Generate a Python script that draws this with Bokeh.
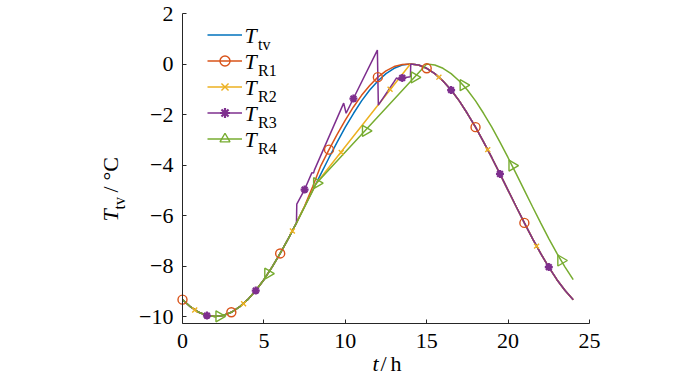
import math
from bokeh.plotting import figure
from bokeh.models import (Range1d, FixedTicker, Legend, LegendItem, Label, LinearAxis)
from bokeh.embed import file_html
from bokeh.resources import INLINE

# ---------------- data ----------------
t_tv = [i * 0.5 for i in range(49)]
T_tv = [-9.33, -9.62, -9.83, -9.96, -10.0, -9.96, -9.83, -9.62, -9.33, -8.97,
        -8.54, -8.04, -7.5, -6.91, -6.29, -5.65, -5.0, -4.35, -3.71, -3.09,
        -2.5, -1.96, -1.46, -1.03, -0.67, -0.38, -0.17, -0.04, 0.0, -0.04,
        -0.17, -0.38, -0.67, -1.03, -1.46, -1.96, -2.5, -3.09, -3.71, -4.35,
        -5.0, -5.65, -6.29, -6.91, -7.5, -8.04, -8.54, -8.97, -9.33]

t_r1 = t_tv
T_r1 = [-9.33, -9.62, -9.83, -9.96, -10.0, -9.96, -9.83, -9.62, -9.33, -8.97,
        -8.54, -8.04, -7.5, -6.91, -6.29, -5.62, -4.85, -4.02, -3.39, -2.79,
        -2.22, -1.70, -1.24, -0.85, -0.52, -0.27, -0.10, -0.02, 0.0, -0.04,
        -0.17, -0.38, -0.67, -1.03, -1.46, -1.96, -2.5, -3.09, -3.71, -4.35,
        -5.0, -5.65, -6.29, -6.91, -7.5, -8.04, -8.54, -8.97, -9.33]

t_r2 = [0, 0.5, 1, 1.5, 2, 2.5, 3, 3.5, 4, 4.5, 5, 5.5, 6, 6.5, 7, 7.5, 8, 8.2,
        14, 14.5, 15, 15.5, 16, 16.5, 17, 17.5, 18, 18.5, 19, 19.5, 20, 20.5,
        21, 21.5, 22, 22.5, 23, 23.5, 24]
T_r2 = [-9.33, -9.62, -9.83, -9.96, -10.0, -9.96, -9.83, -9.62, -9.33, -8.97,
        -8.54, -8.04, -7.5, -6.91, -6.29, -5.65, -5.0, -4.74,
        0.0, -0.04, -0.17, -0.38, -0.67, -1.03, -1.46, -1.96, -2.5, -3.09,
        -3.71, -4.35, -5.0, -5.65, -6.29, -6.91, -7.5, -8.04, -8.54, -8.97, -9.33]

t_r3 = [0, 0.5, 1, 1.5, 2, 2.5, 3, 3.5, 4, 4.5, 5, 5.5, 6, 6.5, 7,
        7.02, 7.5, 7.95, 8.05, 8.1, 9.9, 10.05, 11.97, 12.03, 13.0, 13.15,
        13.3, 13.5, 14.0, 14.02,
        14.5, 15, 15.5, 16, 16.5, 17, 17.5, 18, 18.5, 19, 19.5, 20, 20.5,
        21, 21.5, 22, 22.5, 23, 23.5, 24]
T_r3 = [-9.33, -9.62, -9.83, -9.96, -10.0, -9.96, -9.83, -9.62, -9.33, -8.97,
        -8.54, -8.04, -7.5, -6.91, -6.29,
        -5.55, -4.97, -4.3, -4.32, -4.2, -1.55, -1.95, 0.55, -1.63, -0.7, -0.55,
        -0.62, -0.55, -0.5, 0.0,
        -0.04, -0.17, -0.38, -0.67, -1.03, -1.46, -1.96, -2.5, -3.09, -3.71,
        -4.35, -5.0, -5.65, -6.29, -6.91, -7.5, -8.04, -8.54, -8.97, -9.33]

t_r4 = [0, 0.5, 1, 1.5, 2, 2.5, 3, 3.5, 4, 4.5, 5, 5.5, 6, 6.5, 7, 7.5, 8, 8.2,
        15, 15.5, 16, 16.5, 17, 17.5, 18, 18.5, 19, 19.5, 20, 20.5, 21, 21.5,
        22, 22.5, 23, 23.5, 24]
T_r4 = [-9.33, -9.62, -9.83, -9.96, -10.0, -9.96, -9.83, -9.62, -9.33, -8.97,
        -8.54, -8.04, -7.5, -6.91, -6.29, -5.65, -5.0, -4.74,
        0.0, -0.04, -0.17, -0.38, -0.67, -1.03, -1.46, -1.96, -2.5, -3.09,
        -3.71, -4.35, -5.0, -5.65, -6.29, -6.91, -7.5, -8.04, -8.54]

# marker points
mk_r1_t = [0, 3, 6, 9, 12, 15, 18, 21]
mk_r1_y = [-9.33, -9.83, -7.5, -3.39, -0.52, -0.17, -2.5, -6.29]
mk_r2_t = [0.75, 3.75, 6.75, 9.75, 12.75, 15.75, 18.75, 21.75]
mk_r2_y = [-9.74, -9.49, -6.61, -3.5, -1.0, -0.52, -3.39, -7.21]
mk_r3_t = [1.5, 4.5, 7.5, 10.5, 13.5, 16.5, 19.5, 22.5]
mk_r3_y = [-9.96, -8.97, -4.97, -1.37, -0.55, -1.03, -4.35, -8.04]
mk_r4_t = [2.25, 5.25, 8.25, 11.25, 14.25, 17.25, 20.25, 23.25]
mk_r4_y = [-9.99, -8.30, -4.72, -2.65, -0.53, -0.84, -4.02, -7.78]

x_ticks = [0, 5, 10, 15, 20, 25]
x_tick_labels = ["0", "5", "10", "15", "20", "25"]
y_ticks = [-10, -8, -6, -4, -2, 0, 2]
y_tick_labels = ["\u221210", "\u22128", "\u22126", "\u22124", "\u22122", "0", "2"]
x_lim = (0, 25)
y_lim = (-10.274, 2)
legend_main = ["T", "T", "T", "T", "T"]
legend_subs = ["tv", "R1", "R2", "R3", "R4"]

# ---------------- layout ----------------
W, H = 698, 378
X0_PX, X1_PX = 182.0, 589.0      # canvas x of x_lim ends
Y1_PX, Y0_PX = 13.0, 323.0       # canvas y (from top) of y_lim ends
sx = (X1_PX - X0_PX) / (x_lim[1] - x_lim[0])
sy = (Y0_PX - Y1_PX) / (y_lim[1] - y_lim[0])
xr = Range1d(x_lim[0] - X0_PX / sx, x_lim[1] + (W - X1_PX) / sx)
yr = Range1d(y_lim[0] - (H - Y0_PX) / sy, y_lim[1] + Y1_PX / sy)

C_TV = "#0072BD"
C_R1 = "#D95319"
C_R2 = "#EDB120"
C_R3 = "#7E2F8E"
C_R4 = "#77AC30"
FONT = "Liberation Serif"
AX = "#262626"

p = figure(output_backend="svg", toolbar_location=None, width=W, height=H,
           x_range=xr, y_range=yr, x_axis_type=None, y_axis_type=None,
           min_border=0, min_border_left=0, min_border_right=0,
           min_border_top=0, min_border_bottom=0)
p.outline_line_color = None
p.grid.visible = False
p.background_fill_color = "white"
p.border_fill_color = "white"

xaxis = LinearAxis(fixed_location=y_lim[0], bounds=x_lim,
                   ticker=FixedTicker(ticks=x_ticks))
yaxis = LinearAxis(fixed_location=x_lim[0], bounds=y_lim,
                   ticker=FixedTicker(ticks=y_ticks))
for ax, ticks in ((xaxis, x_ticks), (yaxis, y_ticks)):
    ax.axis_line_color = AX
    ax.axis_line_width = 1
    ax.major_tick_line_color = AX
    ax.major_tick_in = 4
    ax.major_tick_out = 0
    ax.minor_tick_line_color = None
    ax.major_label_overrides = {v: "" for v in ticks}
p.add_layout(xaxis, "below")
p.add_layout(yaxis, "left")


def lab(text, size="22px", style="normal", align="left", angle=0.0, **pos):
    p.add_layout(Label(text=text, text_font=FONT, text_font_size=size,
                       text_font_style=style, text_color="black",
                       text_align=align, text_baseline="middle", angle=angle,
                       **pos))


# tick labels placed through the data scales
for v, s in zip(x_ticks, x_tick_labels):
    lab(s, align="center", x=v, y=y_lim[0], x_units="data", y_units="data",
        y_offset=-17)
for v, s in zip(y_ticks, y_tick_labels):
    lab(s, align="right", x=x_lim[0], y=v, x_units="data", y_units="data",
        x_offset=-9)

LW = 1.5
l_tv = p.line(t_tv, T_tv, line_color=C_TV, line_width=LW)
l_r1 = p.line(t_r1, T_r1, line_color=C_R1, line_width=LW)
l_r2 = p.line(t_r2, T_r2, line_color=C_R2, line_width=LW)
l_r3 = p.line(t_r3, T_r3, line_color=C_R3, line_width=LW)
l_r4 = p.line(t_r4, T_r4, line_color=C_R4, line_width=LW)

s_r1 = p.scatter(mk_r1_t, mk_r1_y, marker="circle", size=9, fill_color=None,
                 line_color=C_R1, line_width=1.4)
s_r2 = p.scatter(mk_r2_t, mk_r2_y, marker="x", size=7,
                 line_color=C_R2, line_width=1.4)
s_r3 = p.scatter(mk_r3_t, mk_r3_y, marker="asterisk", size=8,
                 line_color=C_R3, line_width=2.2)
s_r4 = p.scatter(mk_r4_t, mk_r4_y, marker="triangle", size=11, angle=-math.pi / 2,
                 fill_color=None, line_color=C_R4, line_width=1.4)

# legend: glyph samples from Bokeh's Legend, texts as labels
ROW0, ROWH, SP = 34.8, 25, 1
PITCH = ROWH + SP
legend = Legend(items=[
    LegendItem(label=" ", renderers=[l_tv]),
    LegendItem(label=" ", renderers=[l_r1, s_r1]),
    LegendItem(label=" ", renderers=[l_r2, s_r2]),
    LegendItem(label=" ", renderers=[l_r3, s_r3]),
    LegendItem(label=" ", renderers=[l_r4, s_r4]),
], location=(207, H - (ROW0 - ROWH / 2 + 5 * ROWH + 4 * SP)))
legend.label_text_font_size = "2px"
legend.glyph_width = 35
legend.glyph_height = ROWH
legend.label_height = ROWH
legend.label_width = 1
legend.label_standoff = 0
legend.spacing = SP
legend.padding = 0
legend.margin = 0
legend.border_line_alpha = 0
legend.background_fill_alpha = 0
p.add_layout(legend)

for k, (main, sub) in enumerate(zip(legend_main, legend_subs)):
    yc = ROW0 + PITCH * k
    lab(main, style="italic", x=244, y=H - yc, x_units="screen", y_units="screen")
    lab(sub, size="16px", x=257.5, y=H - (yc + 9), x_units="screen",
        y_units="screen")

# y axis title: T_tv/°C (rotated, reading upwards)
A = math.pi / 2
lab("T", style="italic", angle=A, x=110, y=H - 221, x_units="screen", y_units="screen")
lab("tv", size="16px", angle=A, x=118.5, y=H - 209, x_units="screen", y_units="screen")
lab("/", angle=A, x=110, y=H - 192, x_units="screen", y_units="screen")
lab("°C", angle=A, x=110, y=H - 180, x_units="screen", y_units="screen")

# x axis title: t/h
for x, s, st in ((372, "t", "italic"), (380, "/", "normal"), (390, "h", "normal")):
    lab(s, style=st, x=x, y=H - 363, x_units="screen", y_units="screen")

open("out.html", "w").write(file_html(p, INLINE))
